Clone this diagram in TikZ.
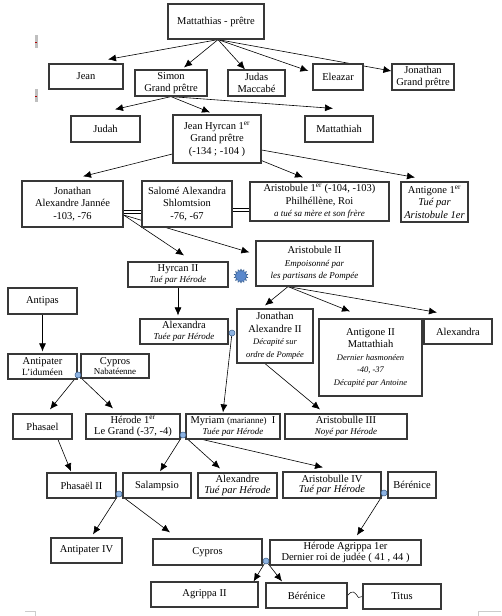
\documentclass[tikz,border=0pt]{standalone}
\usepackage{fontspec}
\setmainfont{Liberation Serif}
\usetikzlibrary{arrows.meta,positioning,shapes.geometric,backgrounds}
\definecolor{boxline}{HTML}{383838}
\definecolor{dotfill}{HTML}{8DB3E2}
\definecolor{dotline}{HTML}{385D8A}
\definecolor{starblue}{HTML}{5A88CC}
\newcommand{\smit}[1]{{\fontsize{9}{10}\selectfont\itshape #1}}
\newcommand{\tiit}[1]{{\fontsize{8.5}{9.5}\selectfont\itshape #1}}
\newcommand{\ier}{1\textsuperscript{er}}

\begin{document}
\begin{tikzpicture}[
  x=1pt, y=-1pt,
  person/.style={draw=boxline, line width=1.2pt, fill=white, align=center, inner sep=1pt,
    font=\fontsize{10.5}{12.5}\selectfont},
  link/.style={line width=0.6pt, -{Latex[length=8pt,width=7pt]}},
  wed/.style={double, double distance=2.2pt, line width=0.55pt},
  knot/.style={circle, draw=dotline, fill=dotfill, line width=0.5pt, inner sep=0pt, minimum size=6pt}
]
  \useasboundingbox (0,0) rectangle (501,616);

  % margin marks
  \fill[black!25] (35,35) rectangle (37.5,48);
  \draw[red!70!black, line width=0.6pt] (35,42) -- (37,42);
  \fill[black!25] (35,89) rectangle (37.5,102);
  \draw[red!70!black, line width=0.6pt] (35,96) -- (37,96);
  \draw[black!20, line width=0.6pt] (25,611) -- (35,611) -- (35,616);
  \draw[black!20, line width=0.6pt] (501,611) -- (478,611) -- (478,616);

  % Mattathias and his sons
  \node[person, minimum width=96pt, minimum height=35pt] (mattathias) at (216,21.5) {Mattathias - prêtre};
  \node[person, minimum width=74pt, minimum height=25pt] (jean) at (86,76.5) {Jean};
  \node[person, minimum width=72pt, minimum height=26pt] (simon) at (171,83) {Simon\\Grand prêtre};
  \node[person, minimum width=57pt, minimum height=26pt] (judas) at (256.5,83) {Judas\\Maccabé};
  \node[person, minimum width=50pt, minimum height=26pt] (eleazar) at (338,77) {Eleazar};
  \node[person, minimum width=62pt, minimum height=26pt] (jonathangp) at (423,77) {Jonathan\\Grand prêtre};

  % sons of Simon
  \node[person, minimum width=69pt, minimum height=26pt] (judah) at (105.5,129) {Judah};
  \node[person, minimum width=88pt, minimum height=48pt] (hyrcan) at (217,139) {Jean Hyrcan \ier\\Grand prêtre\\(-134 ; -104 )};
  \node[person, minimum width=68pt, minimum height=26pt] (mattathiah) at (339,129) {Mattathiah};

  % sons of Jean Hyrcan
  \node[person, minimum width=101pt, minimum height=46pt] (jannee) at (72.5,204) {Jonathan\\Alexandre Jannée\\-103, -76};
  \node[person, minimum width=90pt, minimum height=46pt] (salome) at (187,204) {Salomé Alexandra\\Shlomtsion\\-76, -67};
  \node[person, minimum width=139pt, minimum height=39pt] (aristobule) at (319.5,201.5) {Aristobule \ier{} (-104, -103)\\Philhéllène, Roi\\\smit{a tué sa mère et son frère}};
  \node[person, minimum width=67pt, minimum height=40pt] (antigone) at (434.5,202) {Antigone \ier\\{\itshape Tué par}\\{\itshape Aristobule 1er}};

  % Hyrcan II and Aristobule II
  \node[person, minimum width=100pt, minimum height=25pt] (hyrcandeux) at (178,274.5) {Hyrcan II\\[-1pt]\smit{Tué par Hérode}};
  \node[star, star points=14, star point ratio=1.45, fill=starblue, draw=dotline, line width=0.4pt,
    minimum size=14pt, inner sep=0pt] (seal) at (241,276) {};
  \node[person, minimum width=117pt, minimum height=45pt] (aristodeux) at (314.5,263.5) {Aristobule II\\\smit{Empoisonné par}\\\smit{les partisans de Pompée}};

  % next generation
  \node[person, minimum width=69pt, minimum height=26pt] (antipas) at (42.5,301) {Antipas};
  \node[person, minimum width=88pt, minimum height=25pt] (alexandra) at (184,331.5) {Alexandra\\[-1pt]\smit{Tuée par Hérode}};
  \node[person, minimum width=76pt, minimum height=54pt] (jonathandeux) at (275,336) {Jonathan\\Alexandre II\\\tiit{Décapité sur}\\\tiit{ordre de Pompée}};
  \node[person, minimum width=103pt, minimum height=77pt] (antigonedeux) at (370.5,357.5) {Antigone II\\Mattathiah\\\tiit{Dernier hasmonéen}\\\tiit{-40, -37}\\\tiit{Décapité par Antoine}};
  \node[person, minimum width=68pt, minimum height=25pt] (alexandrab) at (458,331.5) {Alexandra};

  \node[person, minimum width=69pt, minimum height=25pt] (antipater) at (42.5,366.5) {Antipater\\[-2pt]{\fontsize{9.5}{10}\selectfont L'iduméen}};
  \node[person, minimum width=68pt, minimum height=24pt] (cypros) at (115,366) {Cypros\\[-2pt]{\fontsize{9}{10}\selectfont Nabatéenne}};

  % Herod's generation
  \node[person, minimum width=59pt, minimum height=25pt] (phasael) at (42.5,426.5) {Phasael};
  \node[person, minimum width=94pt, minimum height=25pt] (herode) at (133,426.5) {Hérode \ier\\[-2pt]Le Grand (-37, -4)};
  \node[person, minimum width=94pt, minimum height=25pt] (myriam) at (233,426.5) {Myriam {\fontsize{9}{10}\selectfont(marianne)}~~I\\[-1pt]\smit{Tuée par Hérode}};
  \node[person, minimum width=122pt, minimum height=25pt] (aristotrois) at (346,426.5) {Aristobulle III\\[-1pt]\smit{Noyé par Hérode}};

  % children
  \node[person, minimum width=69pt, minimum height=25pt] (phasaeldeux) at (81.5,485.5) {Phasaël II};
  \node[person, minimum width=68pt, minimum height=25pt] (salampsio) at (157,485.5) {Salampsio};
  \node[person, minimum width=79pt, minimum height=25pt] (alexandre) at (237.5,485.5) {Alexandre\\[-2pt]{\itshape Tué par Hérode}};
  \node[person, minimum width=98pt, minimum height=26pt] (aristoquatre) at (332,485) {Aristobulle IV\\[-2pt]{\itshape Tué par Hérode}};
  \node[person, minimum width=48pt, minimum height=26pt] (berenice) at (412,485) {Bérénice};

  % grandchildren
  \node[person, minimum width=71pt, minimum height=25pt] (antipatersub) at (86.5,550.5) {Antipater IV};
  \node[person, minimum width=109pt, minimum height=26pt] (cyprosb) at (207.5,552) {Cypros};
  \node[person, minimum width=151pt, minimum height=25pt] (agrippa) at (345.5,552.5) {Hérode Agrippa 1er\\[-2pt]Dernier roi de judée ( 41 , 44 )};
  \node[person, minimum width=107pt, minimum height=25pt] (agrippadeux) at (204.5,594.5) {Agrippa II};
  \node[person, minimum width=81pt, minimum height=25pt] (bereniceb) at (306.5,595.5) {Bérénice};
  \node[person, minimum width=78pt, minimum height=25pt] (titus) at (402,596.5) {Titus};

  % couples
  \node[knot] (couplea) at (232,333) {};
  \node[knot] (coupleb) at (78,375) {};
  \node[knot] (couplec) at (183,435) {};
  \node[knot] (coupled) at (119,494) {};
  \node[knot] (couplee) at (384,493) {};
  \node[knot] (couplef) at (266,561) {};

  \begin{scope}[on background layer]
    % Mattathias
    \draw[link] ([xshift=2pt]mattathias.south) -- ([xshift=22pt,yshift=4pt]jean.north);
    \draw[link] ([xshift=2pt]mattathias.south) -- ([xshift=13pt,yshift=2pt]simon.north);
    \draw[link] ([xshift=2pt]mattathias.south) -- ([xshift=-11.5pt]judas.north);
    \draw[link] ([xshift=2pt]mattathias.south) -- ([xshift=-4pt,yshift=6pt]eleazar.west);
    \draw[link] ([xshift=2pt]mattathias.south) -- ([yshift=6pt]jonathangp.west);
    % Simon
    \draw[link] (simon.south) -- ([xshift=9.5pt,yshift=6pt]judah.north);
    \draw[link] (simon.south) -- ([xshift=-7pt,yshift=2pt]hyrcan.north);
    \draw[link] (simon.south) -- ([xshift=-6pt,yshift=7pt]mattathiah.north);
    % Jean Hyrcan
    \draw[link] ([yshift=-15pt]hyrcan.west) -- ([xshift=10.5pt,yshift=4pt]jannee.north);
    \draw[link] ([yshift=3pt]hyrcan.south east) -- ([xshift=-16.5pt,yshift=4pt]aristobule.north);
    \draw[link] ([yshift=-11pt]hyrcan.east) -- ([xshift=-19.5pt,yshift=4pt]antigone.north);
    % Alexandre Jannee and Salome
    \draw[wed] ([yshift=-8pt]jannee.east) -- ([yshift=-8pt]jannee.east -| salome.west);
    \draw[wed] ([yshift=-6pt]salome.east) -- ([yshift=-6pt]salome.east -| aristobule.west);
    \draw[link] ([yshift=-11pt]jannee.east) -- ([xshift=6pt,yshift=6pt]hyrcandeux.north);
    \draw[link] ([yshift=-11pt]jannee.east) -- ([xshift=-6pt,yshift=-12pt]aristodeux.north west);
    % Hyrcan II and Aristobule II
    \draw[link] (hyrcandeux.south) -- ([xshift=-6pt,yshift=3pt]alexandra.north);
    \draw[link] ([xshift=-26.5pt]aristodeux.south) -- ([xshift=-10pt,yshift=3pt]jonathandeux.north);
    \draw[link] ([xshift=-26.5pt]aristodeux.south) -- ([xshift=-20.5pt,yshift=7pt]antigonedeux.north);
    \draw[link] ([xshift=-26.5pt]aristodeux.south) -- ([xshift=-21pt,yshift=6pt]alexandrab.north);
    \draw[link] (couplea) -- ([xshift=-10pt,yshift=1pt]myriam.north);
    \draw[link] ([xshift=-10pt]jonathandeux.south) -- ([xshift=-26pt,yshift=4pt]aristotrois.north);
    % Antipas line
    \draw[link] (antipas.south) -- ([yshift=2pt]antipater.north);
    \draw[link] (coupleb) -- ([xshift=7.5pt,yshift=4pt]phasael.north);
    \draw[link] (coupleb) -- ([xshift=-20pt,yshift=5pt]herode.north);
    \draw[link] ([xshift=15.5pt]phasael.south) -- ([xshift=-10.5pt,yshift=1pt]phasaeldeux.north);
    % Herode and Myriam
    \draw[link] (couplec) -- ([xshift=3pt,yshift=1pt]salampsio.north);
    \draw[link] (couplec) -- ([xshift=-17.5pt,yshift=4pt]alexandre.north);
    \draw[link] (couplec) -- ([xshift=-9pt,yshift=4pt]aristoquatre.north);
    \draw[link] (coupled) -- ([xshift=6.5pt,yshift=3pt]antipatersub.north);
    \draw[link] (coupled) -- ([xshift=-37.5pt,yshift=6pt]cyprosb.north);
    \draw[link] (couplee) -- ([xshift=11.5pt,yshift=4pt]agrippa.north);
    \draw[link] (couplef) -- ([xshift=-5pt]agrippadeux.north east);
    \draw[link] (couplef) -- ([xshift=-24.5pt,yshift=1pt]bereniceb.north);
    % Berenice and Titus
    \draw[line width=0.5pt] (bereniceb.east) .. controls +(5,-6) and +(-4,-6) .. ([xshift=-4pt,yshift=-1pt]titus.west) -- (titus.west);
  \end{scope}
\end{tikzpicture}
\end{document}
